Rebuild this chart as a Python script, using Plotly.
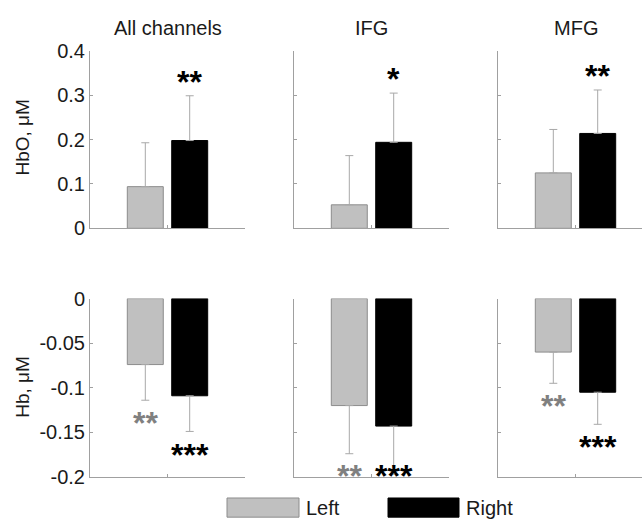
import plotly.graph_objects as go

regions = ["All channels", "IFG", "MFG"]
sides = ["Left", "Right"]

hbo_left = [0.094, 0.053, 0.125]
hbo_right = [0.198, 0.194, 0.214]
hbo_left_err = [0.099, 0.111, 0.098]
hbo_right_err = [0.101, 0.111, 0.098]

hb_left = [-0.074, -0.120, -0.060]
hb_right = [-0.109, -0.143, -0.105]
hb_left_err = [0.040, 0.054, 0.035]
hb_right_err = [0.040, 0.054, 0.036]

hbo_sig_left = ["", "", ""]
hbo_sig_right = ["**", "*", "**"]
hb_sig_left = ["**", "**", "**"]
hb_sig_right = ["***", "***", "***"]

hbo_ticks = [0, 0.1, 0.2, 0.3, 0.4]
hbo_ticktext = ["0", "0.1", "0.2", "0.3", "0.4"]
hb_ticks = [-0.2, -0.15, -0.1, -0.05, 0]
hb_ticktext = ["-0.2", "-0.15", "-0.1", "-0.05", "0"]

W, H = 642, 532
FONT = "Liberation Sans, Arial, sans-serif"
AXC = "#a0a0a0"
LEFT_FILL = "#c0c0c0"
LEFT_EDGE = "#8c8c8c"
ERRC = "#a8a8a8"
TXT = "#1a1a1a"

col_px = [(90, 245), (294, 449), (498, 653)]
top_px = (41.7, 226.7)
bot_px = (300, 486)

fig = go.Figure()

def px2x(p):
    return p / W

def px2y(p):
    return (H - p) / H

for row in range(2):
    for c in range(3):
        idx = row * 3 + c + 1
        xa = "x" if idx == 1 else f"x{idx}"
        ya = "y" if idx == 1 else f"y{idx}"
        if row == 0:
            lv, rv, le, re = hbo_left[c], hbo_right[c], hbo_left_err[c], hbo_right_err[c]
            lerr = dict(type="data", symmetric=False, array=[le], arrayminus=[0], color=ERRC, thickness=1, width=4)
            rerr = dict(type="data", symmetric=False, array=[re], arrayminus=[0], color=ERRC, thickness=1, width=4)
        else:
            lv, rv, le, re = hb_left[c], hb_right[c], hb_left_err[c], hb_right_err[c]
            lerr = dict(type="data", symmetric=False, array=[0], arrayminus=[le], color=ERRC, thickness=1, width=4)
            rerr = dict(type="data", symmetric=False, array=[0], arrayminus=[re], color=ERRC, thickness=1, width=4)
        fig.add_trace(go.Bar(x=[regions[c]], y=[lv], name=sides[0], xaxis=xa, yaxis=ya,
                             marker=dict(color=LEFT_FILL, line=dict(color=LEFT_EDGE, width=1)),
                             error_y=lerr, showlegend=False, offsetgroup="L"))
        fig.add_trace(go.Bar(x=[regions[c]], y=[rv], name=sides[1], xaxis=xa, yaxis=ya,
                             marker=dict(color="#000000", line=dict(color="#000000", width=1)),
                             error_y=rerr, showlegend=False, offsetgroup="R"))

        x0p, x1p = col_px[c]
        x1clip = min(x1p, W)
        xr1 = -0.5 + (x1clip - x0p) / (x1p - x0p)
        ypx = top_px if row == 0 else bot_px
        xkey = "xaxis" if idx == 1 else f"xaxis{idx}"
        ykey = "yaxis" if idx == 1 else f"yaxis{idx}"
        fig.layout[xkey] = dict(domain=[px2x(x0p), px2x(x1clip)], anchor=ya, range=[-0.5, xr1],
                                type="category", showline=True, linecolor=AXC, linewidth=1,
                                ticks="inside", ticklen=3, tickcolor=AXC, showticklabels=False,
                                showgrid=False, zeroline=False, fixedrange=True)
        fig.layout[ykey] = dict(domain=[px2y(ypx[1]), px2y(ypx[0])], anchor=xa,
                                range=[0, 0.4] if row == 0 else [-0.2, 0],
                                tickvals=hbo_ticks if row == 0 else hb_ticks,
                                ticktext=hbo_ticktext if row == 0 else hb_ticktext,
                                showline=True, linecolor=AXC, linewidth=1,
                                ticks="inside", ticklen=3, tickcolor=AXC,
                                showticklabels=(c == 0), showgrid=False, zeroline=False,
                                tickfont=dict(family=FONT, size=20, color=TXT),
                                fixedrange=True)

        # significance stars
        if row == 0:
            for val, err, sig, off, colr in [(lv, le, hbo_sig_left[c], "L", "#808080"),
                                              (rv, re, hbo_sig_right[c], "R", "#000000")]:
                if sig:
                    fig.add_annotation(x=regions[c], y=val + err, xref=xa, yref=ya, text=f"<b>{sig}</b>",
                                       showarrow=False, yanchor="middle", yshift=14,
                                       xshift=(-22 if off == "L" else 22),
                                       font=dict(family=FONT, size=32, color=colr))
        else:
            for val, err, sig, off, colr in [(lv, le, hb_sig_left[c], "L", "#808080"),
                                              (rv, re, hb_sig_right[c], "R", "#000000")]:
                if sig:
                    ystar = max(val - err - 0.017, -0.19)
                    fig.add_annotation(x=regions[c], y=ystar, xref=xa, yref=ya, text=f"<b>{sig}</b>",
                                       showarrow=False, yanchor="middle", yshift=-8,
                                       xshift=(-22 if off == "L" else 22),
                                       font=dict(family=FONT, size=32, color=colr))

# column titles
for c in range(3):
    x0p, x1p = col_px[c]
    fig.add_annotation(x=px2x((x0p + x1p) / 2), y=px2y(18), xref="paper", yref="paper",
                       text=regions[c], showarrow=False, xanchor="center", yanchor="middle",
                       font=dict(family=FONT, size=20, color=TXT))

# y titles
for txt, yc in [("HbO, \u03bcM", 132), ("Hb, \u03bcM", 392)]:
    fig.add_annotation(x=px2x(23), y=px2y(yc), xref="paper", yref="paper", text=txt,
                       textangle=-90, showarrow=False, xanchor="center", yanchor="middle",
                       font=dict(family=FONT, size=19, color=TXT))

# legend (manual)
leg = [(sides[0], LEFT_FILL, LEFT_EDGE, 227, 299), (sides[1], "#000000", "#000000", 388, 459)]
for name, fill, edge, a, b in leg:
    fig.add_shape(type="rect", xref="paper", yref="paper", x0=px2x(a), x1=px2x(b),
                  y0=px2y(528), y1=px2y(508), fillcolor=fill, line=dict(color=edge, width=1))
    fig.add_annotation(x=px2x(b + 5), y=px2y(518), xref="paper", yref="paper", text=name,
                       showarrow=False, xanchor="left", yanchor="middle",
                       font=dict(family=FONT, size=20, color=TXT))

fig.update_layout(width=W, height=H, margin=dict(l=0, r=0, t=0, b=0),
                  paper_bgcolor="white", plot_bgcolor="white",
                  barmode="group", bargap=0.427, bargroupgap=0.19, showlegend=False)

fig.write_html("out.html")
